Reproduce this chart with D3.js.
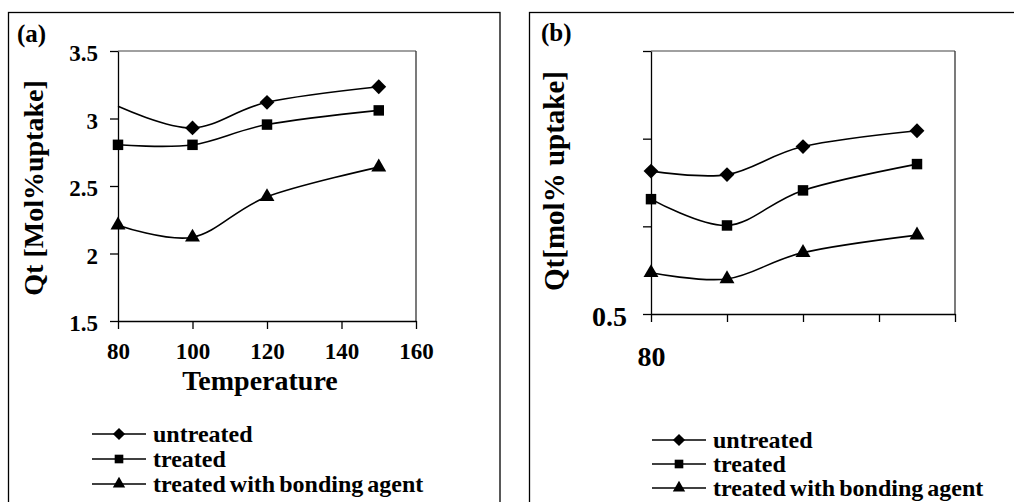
<!DOCTYPE html>
<html>
<head>
<meta charset="utf-8">
<script src="https://cdn.jsdelivr.net/npm/d3@7"></script>
<style>
  body { margin: 0; background: #fff; }
  svg { display: block; font-family: "Liberation Serif", "Times New Roman", serif; font-weight: bold; }
  .axis path, .axis line { stroke: #000; stroke-width: 1.3; }
  .axis text { fill: #000; font-family: "Liberation Serif", serif; font-weight: bold; }
</style>
</head>
<body>
<svg id="chart" width="1014" height="502"></svg>
<script>
// data
const temps = [80, 100, 120, 150]
const seriesNames = ['untreated', 'treated', 'treated with bonding agent']
const markerTypes = ['diamond', 'square', 'triangle']

const untreatedA = [3.09, 2.93, 3.12, 3.235]
const treatedA = [2.805, 2.805, 2.955, 3.06]
const bondedA = [2.21, 2.12, 2.42, 2.64]

const untreatedB = [2.13, 2.09, 2.41, 2.59]
const treatedB = [1.81, 1.51, 1.91, 2.21]
const bondedB = [0.97, 0.90, 1.20, 1.40]

const xTicks = [80, 100, 120, 140, 160]
const yTicksA = [1.5, 2, 2.5, 3, 3.5]
const yTicksB = [0.5, 1.5, 2.5, 3.5]

const svg = d3.select('#chart')

function symbolFor(type, size) {
  const t = type === 'diamond' ? d3.symbolDiamond2 : type === 'square' ? d3.symbolSquare2 : d3.symbolTriangle2
  return d3.symbol().type(t).size(size)
}

function drawPanel(p) {
  // outer frame
  svg.append('rect')
    .attr('x', p.frame[0]).attr('y', p.frame[1])
    .attr('width', p.frame[2]).attr('height', p.frame[3])
    .attr('fill', 'none').attr('stroke', '#000').attr('stroke-width', 1.3)

  svg.append('text')
    .attr('x', p.tag[0]).attr('y', p.tag[1])
    .attr('font-size', 25)
    .text(p.tagText)

  const x = d3.scaleLinear().domain([80, 160]).range(p.xRange)
  const y = d3.scaleLinear().domain(p.yDomain).range(p.yRange)

  // plot area border (top and right)
  svg.append('line')
    .attr('x1', p.xRange[0]).attr('x2', p.xRange[1])
    .attr('y1', p.yRange[1]).attr('y2', p.yRange[1])
    .attr('stroke', '#808080').attr('stroke-width', 1.3)
  svg.append('line')
    .attr('x1', p.xRange[1]).attr('x2', p.xRange[1])
    .attr('y1', p.yRange[1]).attr('y2', p.yRange[0])
    .attr('stroke', '#333').attr('stroke-width', 1.3)

  const yAxis = svg.append('g')
    .attr('class', 'axis')
    .attr('transform', 'translate(' + p.xRange[0] + ',0)')
    .call(d3.axisLeft(y).tickValues(p.yTicks).tickSize(8).tickSizeOuter(0)
      .tickPadding(p.yPad)
      .tickFormat(p.yFormat))
  yAxis.selectAll('text').attr('font-size', p.tickFont).attr('dy', '0.42em')

  const xAxis = svg.append('g')
    .attr('class', 'axis')
    .attr('transform', 'translate(0,' + p.yRange[0] + ')')
    .call(d3.axisBottom(x).tickValues(xTicks).tickSize(8).tickSizeOuter(0)
      .tickPadding(p.xPad)
      .tickFormat(p.xFormat))
  xAxis.selectAll('text').attr('font-size', p.tickFont)

  if (p.xTitle) {
    svg.append('text')
      .attr('x', (p.xRange[0] + p.xRange[1]) / 2 - 7)
      .attr('y', p.xTitleY)
      .attr('text-anchor', 'middle')
      .attr('font-size', 28)
      .text(p.xTitle)
  }

  svg.append('text')
    .attr('transform', 'translate(' + p.yTitlePos[0] + ',' + p.yTitlePos[1] + ') rotate(-90)')
    .attr('text-anchor', 'middle')
    .attr('font-size', p.yTitleFont)
    .text(p.yTitle)

  const line = d3.line()
    .x((d, i) => x(temps[i]))
    .y(d => y(d))
    .curve(d3.curveCardinal.tension(0))

  p.series.forEach((vals, s) => {
    svg.append('path')
      .datum(vals)
      .attr('d', line)
      .attr('fill', 'none')
      .attr('stroke', '#000')
      .attr('stroke-width', 1.6)

    const sym = symbolFor(markerTypes[s], markerTypes[s] === 'triangle' ? 160 : 140)
    svg.append('g').selectAll('path')
      .data(vals.map((v, i) => ({ t: temps[i], v: v, i: i })))
      .enter().append('path')
      // the untreated marker at 80 is hidden under the axis in panel (a)
      .filter(d => !(p.hideFirstUntreated && s === 0 && d.i === 0))
      .attr('d', sym)
      .attr('transform', d => 'translate(' + x(d.t) + ',' + y(d.v) + ')')
      .attr('fill', '#000')
  })

  // legend
  seriesNames.forEach((name, s) => {
    const ly = p.legend[1] + s * p.legendStep
    svg.append('line')
      .attr('x1', p.legend[0]).attr('x2', p.legend[0] + 54)
      .attr('y1', ly).attr('y2', ly)
      .attr('stroke', '#000').attr('stroke-width', 1.6)
    svg.append('path')
      .attr('d', symbolFor(markerTypes[s], markerTypes[s] === 'triangle' ? 110 : 95)())
      .attr('transform', 'translate(' + (p.legend[0] + 27) + ',' + ly + ')')
      .attr('fill', '#000')
    svg.append('text')
      .attr('x', p.legend[0] + 61)
      .attr('y', ly + 8)
      .attr('font-size', 24)
      .attr('word-spacing', '-2')
      .text(name)
  })
}

drawPanel({
  frame: [8.5, 12.5, 491.5, 500],
  tag: [17, 42], tagText: '(a)',
  xRange: [118, 416], yRange: [321, 51], yDomain: [1.5, 3.5],
  yTicks: yTicksA,
  yFormat: d => d3.format('')(d),
  xFormat: d => d,
  yPad: 12, xPad: 14, tickFont: 23,
  xTitle: 'Temperature', xTitleY: 390,
  yTitle: 'Qt [Mol%uptake]', yTitlePos: [43, 188], yTitleFont: 28,
  series: [untreatedA, treatedA, bondedA],
  hideFirstUntreated: true,
  legend: [92, 434], legendStep: 25
})

drawPanel({
  frame: [529.5, 12.5, 500, 500],
  tag: [541, 41], tagText: '(b)',
  xRange: [651, 955], yRange: [314, 51], yDomain: [0.5, 3.5],
  yTicks: yTicksB,
  yFormat: d => d === 0.5 ? '0.5' : '',
  xFormat: d => d === 80 ? '80' : '',
  yPad: 16, xPad: 24, tickFont: 28,
  xTitle: null,
  yTitle: 'Qt[mol% uptake]', yTitlePos: [564, 181], yTitleFont: 29,
  series: [untreatedB, treatedB, bondedB],
  hideFirstUntreated: false,
  legend: [652, 440], legendStep: 24
})
</script>
</body>
</html>
